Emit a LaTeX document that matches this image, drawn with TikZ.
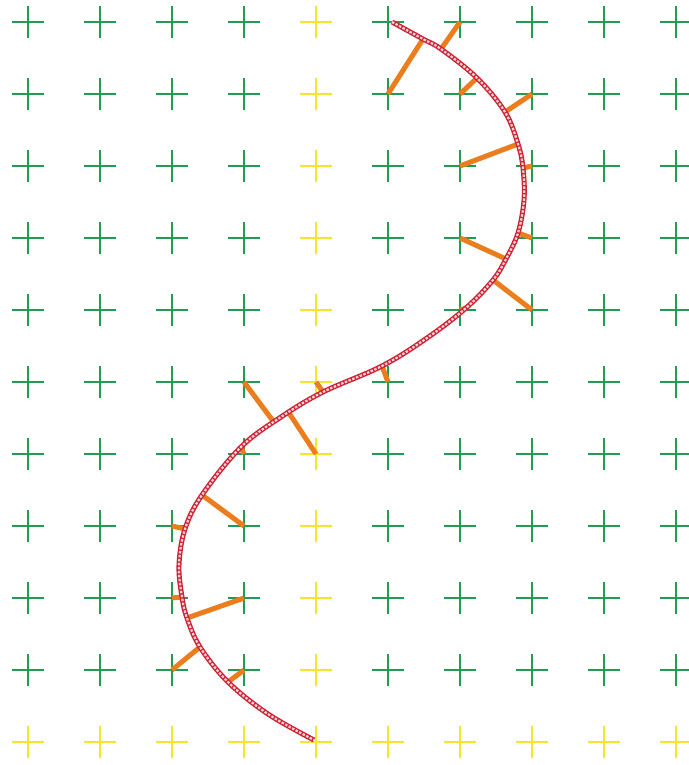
\documentclass[tikz,border=0pt]{standalone}
\definecolor{gridgreen}{RGB}{34,155,82}
\definecolor{gridyellow}{RGB}{240,232,40}
\definecolor{ropered}{RGB}{205,35,52}
\definecolor{ropepink}{RGB}{248,212,216}
\definecolor{stickorange}{RGB}{236,125,28}
\begin{document}
\begin{tikzpicture}[x=1pt,y=-1pt,
  crossmark/.style={line width=2.2pt},
  stickline/.style={draw=stickorange,line width=5pt},
  ropebase/.style={draw=ropered,line width=5pt},
  ropetex/.style={draw=ropepink,line width=2.2pt,dash pattern=on 2.5pt off 1.5pt}]
\useasboundingbox (0,0) rectangle (688,765);
% grid of crosses
\foreach \i in {0,...,9}{
  \foreach \j in {0,...,10}{
    \pgfmathsetmacro\gx{28+72*\i}
    \pgfmathsetmacro\gy{22+72*\j}
    \ifnum\i=4 \def\cc{gridyellow}\else\ifnum\j=10 \def\cc{gridyellow}\else\def\cc{gridgreen}\fi\fi
    \coordinate (g-\i-\j) at (\gx,\gy);
    \draw[crossmark,draw=\cc] ([xshift=-16pt]g-\i-\j) -- ([xshift=16pt]g-\i-\j);
    \draw[crossmark,draw=\cc] ([yshift=-16pt]g-\i-\j) -- ([yshift=16pt]g-\i-\j);
  }
}
% feet on the curve
\coordinate (f1) at (423,39);
\coordinate (f2) at (441,49);
\coordinate (f3) at (477,78);
\coordinate (f4) at (505,112);
\coordinate (f5) at (518,144);
\coordinate (f6) at (523,168);
\coordinate (f7) at (518,233);
\coordinate (f8) at (506,259);
\coordinate (f9) at (493,280);
\coordinate (f10) at (466,308);
\coordinate (f11) at (382,366);
\coordinate (f12) at (323,392);
\coordinate (f13) at (273,421);
\coordinate (f14) at (289,413);
\coordinate (f15) at (241,447);
\coordinate (f16) at (202,495);
\coordinate (f17) at (185,529);
\coordinate (f18) at (182,597);
\coordinate (f19) at (187,618);
\coordinate (f20) at (200,647);
\coordinate (f21) at (228,682);
% orange sticks
\draw[stickline] (g-5-1) -- (f1);
\draw[stickline] (g-6-0) -- (f2);
\draw[stickline] (g-6-1) -- (f3);
\draw[stickline] (g-7-1) -- (f4);
\draw[stickline] (g-6-2) -- (f5);
\draw[stickline] (g-7-2) -- (f6);
\draw[stickline] (g-7-3) -- (f7);
\draw[stickline] (g-6-3) -- (f8);
\draw[stickline] (g-7-4) -- (f9);
\draw[stickline] (g-6-4) -- (f10);
\draw[stickline] (g-5-5) -- (f11);
\draw[stickline] (g-4-5) -- (f12);
\draw[stickline] (g-3-5) -- (f13);
\draw[stickline] (g-4-6) -- (f14);
\draw[stickline] (g-3-6) -- (f15);
\draw[stickline] (g-3-7) -- (f16);
\draw[stickline] (g-2-7) -- (f17);
\draw[stickline] (g-2-8) -- (f18);
\draw[stickline] (g-3-8) -- (f19);
\draw[stickline] (g-2-9) -- (f20);
\draw[stickline] (g-3-9) -- (f21);
% the rope curve
\def\ropepath{plot[smooth,tension=0.6] coordinates {
  (392,22) (423,39) (441,49) (477,78) (505,112) (518,144) (523,168)
  (524,200) (518,233) (506,259) (493,280) (466,308) (427,338) (382,366)
  (323,392) (281,417) (241,447) (202,495) (185,529) (179,565) (182,597)
  (187,618) (200,647) (228,682) (268,714) (314,740)}}
\draw[ropebase] \ropepath;
\draw[ropetex] \ropepath;
\end{tikzpicture}
\end{document}
